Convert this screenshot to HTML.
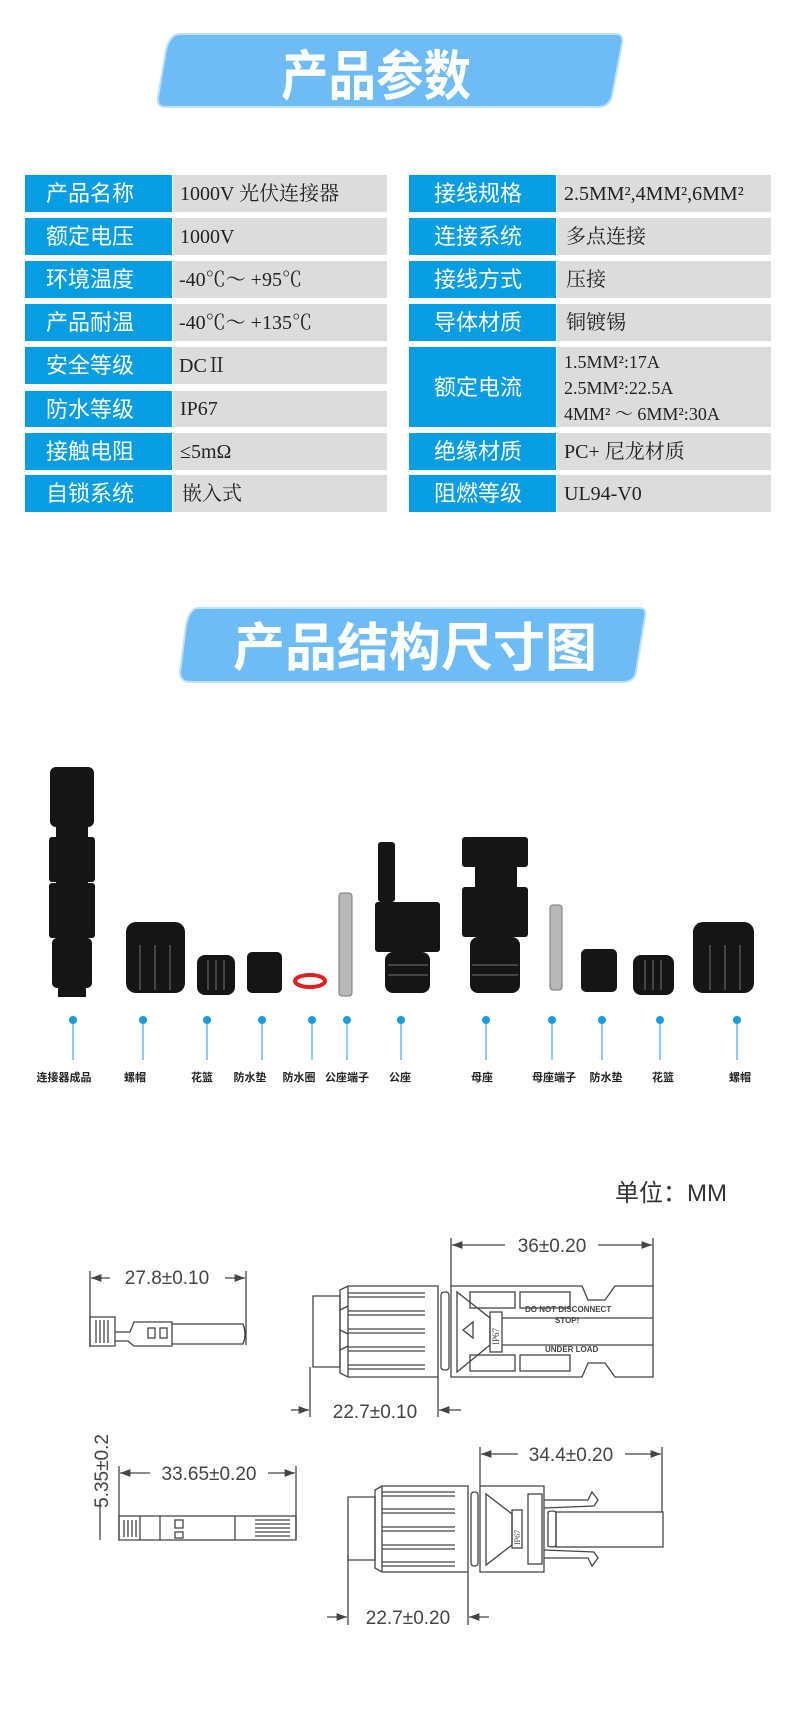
<!DOCTYPE html>
<html><head><meta charset="utf-8"><style>
html,body{margin:0;padding:0;background:#fff;}
svg{display:block;}
.lb{font-family:"Liberation Sans","Noto Sans CJK SC",sans-serif;font-size:22px;fill:#fff;}
.vl{font-family:"Liberation Serif","Noto Serif CJK SC",serif;font-size:20px;fill:#222;}
.ban{font-family:"Liberation Sans","Noto Sans CJK SC",sans-serif;font-weight:bold;fill:#fff;}
.pl{font-family:"Liberation Sans","Noto Sans CJK SC",sans-serif;font-size:11px;font-weight:bold;fill:#222;}
.dim{font-family:"Liberation Sans","DejaVu Sans",sans-serif;font-size:19px;fill:#444;}
.dr{fill:none;stroke:#444;stroke-width:1.3;}
</style></head><body>
<svg width="790" height="1721" viewBox="0 0 790 1721" xmlns="http://www.w3.org/2000/svg">
<defs>
<marker id="ar" markerWidth="8" markerHeight="6" refX="8" refY="3" orient="auto"><path d="M0,0 L8,3 L0,6 z" fill="#444"/></marker>
</defs>
<!-- Banner 1 -->
<path d="M180,34 L616,34 Q624,34 622,44 L612,96 Q609,107 598,107 L166,107 Q156,107 158,97 L166,50 Q170,34 180,34 z" fill="#6dbcf5" stroke="#bfe2fb" stroke-width="2"/>
<text class="ban" x="281" y="95" font-size="54" textLength="190" lengthAdjust="spacingAndGlyphs">产品参数</text>
<!-- Table -->
<g>
<rect x="25" y="175" width="147" height="37" fill="#079de3"/><rect x="173" y="175" width="214" height="37" fill="#dcdcdc"/>
<rect x="25" y="218" width="147" height="37" fill="#079de3"/><rect x="173" y="218" width="214" height="37" fill="#dcdcdc"/>
<rect x="25" y="261" width="147" height="37" fill="#079de3"/><rect x="173" y="261" width="214" height="37" fill="#dcdcdc"/>
<rect x="25" y="304" width="147" height="37" fill="#079de3"/><rect x="173" y="304" width="214" height="37" fill="#dcdcdc"/>
<rect x="25" y="347" width="147" height="37" fill="#079de3"/><rect x="173" y="347" width="214" height="37" fill="#dcdcdc"/>
<rect x="25" y="391" width="147" height="36" fill="#079de3"/><rect x="173" y="391" width="214" height="36" fill="#dcdcdc"/>
<rect x="25" y="433" width="147" height="37" fill="#079de3"/><rect x="173" y="433" width="214" height="37" fill="#dcdcdc"/>
<rect x="25" y="475" width="147" height="37" fill="#079de3"/><rect x="173" y="475" width="214" height="37" fill="#dcdcdc"/>

<rect x="409" y="175" width="147" height="37" fill="#079de3"/><rect x="557" y="175" width="214" height="37" fill="#dcdcdc"/>
<rect x="409" y="218" width="147" height="37" fill="#079de3"/><rect x="557" y="218" width="214" height="37" fill="#dcdcdc"/>
<rect x="409" y="261" width="147" height="37" fill="#079de3"/><rect x="557" y="261" width="214" height="37" fill="#dcdcdc"/>
<rect x="409" y="304" width="147" height="37" fill="#079de3"/><rect x="557" y="304" width="214" height="37" fill="#dcdcdc"/>
<rect x="409" y="347" width="147" height="80" fill="#079de3"/><rect x="557" y="347" width="214" height="80" fill="#dcdcdc"/>
<rect x="409" y="433" width="147" height="37" fill="#079de3"/><rect x="557" y="433" width="214" height="37" fill="#dcdcdc"/>
<rect x="409" y="475" width="147" height="37" fill="#079de3"/><rect x="557" y="475" width="214" height="37" fill="#dcdcdc"/>
</g>
<g class="lb">
<text x="46" y="201">产品名称</text><text x="46" y="244">额定电压</text><text x="46" y="287">环境温度</text><text x="46" y="330">产品耐温</text>
<text x="46" y="373">安全等级</text><text x="46" y="417">防水等级</text><text x="46" y="459">接触电阻</text><text x="46" y="501">自锁系统</text>
<text x="434" y="201">接线规格</text><text x="434" y="244">连接系统</text><text x="434" y="287">接线方式</text><text x="434" y="330">导体材质</text>
<text x="434" y="395">额定电流</text><text x="434" y="459">绝缘材质</text><text x="434" y="501">阻燃等级</text>
</g>
<g class="vl">
<text x="180" y="200">1000V 光伏连接器</text><text x="180" y="243">1000V</text><text x="179" y="286">-40℃～ +95℃</text><text x="179" y="329">-40℃～ +135℃</text>
<text x="179" y="372">DCⅡ</text><text x="180" y="415">IP67</text><text x="180" y="458">≤5mΩ</text><text x="182" y="500">嵌入式</text>
<text x="564" y="200">2.5MM²,4MM²,6MM²</text><text x="566" y="243">多点连接</text><text x="566" y="286">压接</text><text x="566" y="329">铜镀锡</text>
<text x="564" y="368" font-size="18">1.5MM²:17A</text><text x="564" y="394" font-size="18">2.5MM²:22.5A</text><text x="564" y="420" font-size="18">4MM² ～ 6MM²:30A</text>
<text x="564" y="458">PC+ 尼龙材质</text><text x="564" y="500">UL94-V0</text>
</g>
<!-- Banner 2 -->
<path d="M198,608 L640,608 Q647,608 645,617 L636,672 Q634,682 624,682 L190,682 Q180,682 180,672 L186,625 Q190,608 198,608 z" fill="#6dbcf5" stroke="#bfe2fb" stroke-width="2"/>
<text class="ban" x="233" y="666" font-size="52" textLength="364" lengthAdjust="spacingAndGlyphs">产品结构尺寸图</text>
<!-- Photo parts -->
<g fill="#151515">
<rect x="50" y="767" width="44" height="60" rx="6"/>
<rect x="56" y="827" width="32" height="10"/>
<rect x="49" y="837" width="46" height="45" rx="3"/>
<rect x="56" y="882" width="32" height="18"/>
<rect x="49" y="883" width="46" height="55" rx="3"/>
<rect x="52" y="938" width="40" height="50" rx="5"/>
<rect x="58" y="988" width="28" height="9"/>
<rect x="126" y="922" width="59" height="71" rx="10"/>
<rect x="197" y="955" width="38" height="40" rx="8"/>
<rect x="247" y="952" width="35" height="41" rx="5"/>
<rect x="378" y="842" width="17" height="60" rx="3"/>
<rect x="375" y="902" width="65" height="50" rx="3"/>
<rect x="385" y="952" width="45" height="41" rx="8"/>
<rect x="462" y="837" width="66" height="30" rx="3"/>
<rect x="475" y="867" width="42" height="20"/>
<rect x="462" y="887" width="66" height="50" rx="3"/>
<rect x="470" y="937" width="50" height="56" rx="8"/>
<rect x="581" y="949" width="36" height="43" rx="5"/>
<rect x="633" y="955" width="41" height="40" rx="8"/>
<rect x="693" y="922" width="61" height="71" rx="10"/>
</g>
<g stroke="#555" stroke-width="1.5">
<line x1="140" y1="945" x2="140" y2="990"/><line x1="155" y1="945" x2="155" y2="990"/><line x1="170" y1="945" x2="170" y2="990"/>
<line x1="710" y1="945" x2="710" y2="990"/><line x1="725" y1="945" x2="725" y2="990"/><line x1="740" y1="945" x2="740" y2="990"/>
<line x1="208" y1="960" x2="208" y2="990"/><line x1="216" y1="960" x2="216" y2="990"/><line x1="224" y1="960" x2="224" y2="990"/>
<line x1="645" y1="960" x2="645" y2="990"/><line x1="653" y1="960" x2="653" y2="990"/><line x1="661" y1="960" x2="661" y2="990"/>
<line x1="388" y1="965" x2="428" y2="965"/><line x1="388" y1="975" x2="428" y2="975"/>
<line x1="472" y1="965" x2="518" y2="965"/><line x1="472" y1="975" x2="518" y2="975"/>
</g>
<ellipse cx="310" cy="981" rx="15" ry="6" fill="none" stroke="#e02020" stroke-width="4"/>
<rect x="339" y="893" width="13" height="103" rx="3" fill="#b8b8b8" stroke="#777"/>
<rect x="550" y="905" width="12" height="85" rx="3" fill="#b8b8b8" stroke="#777"/>
<!-- callout dots and lines -->
<g fill="#1a9be0" stroke="#1a9be0" stroke-width="1">
<circle cx="73" cy="1020" r="3.5"/><line x1="73" y1="1020" x2="73" y2="1060"/>
<circle cx="143" cy="1020" r="3.5"/><line x1="143" y1="1020" x2="143" y2="1060"/>
<circle cx="207" cy="1020" r="3.5"/><line x1="207" y1="1020" x2="207" y2="1060"/>
<circle cx="262" cy="1020" r="3.5"/><line x1="262" y1="1020" x2="262" y2="1060"/>
<circle cx="312" cy="1020" r="3.5"/><line x1="312" y1="1020" x2="312" y2="1060"/>
<circle cx="347" cy="1020" r="3.5"/><line x1="347" y1="1020" x2="347" y2="1060"/>
<circle cx="401" cy="1020" r="3.5"/><line x1="401" y1="1020" x2="401" y2="1060"/>
<circle cx="486" cy="1020" r="3.5"/><line x1="486" y1="1020" x2="486" y2="1060"/>
<circle cx="552" cy="1020" r="3.5"/><line x1="552" y1="1020" x2="552" y2="1060"/>
<circle cx="602" cy="1020" r="3.5"/><line x1="602" y1="1020" x2="602" y2="1060"/>
<circle cx="660" cy="1020" r="3.5"/><line x1="660" y1="1020" x2="660" y2="1060"/>
<circle cx="737" cy="1020" r="3.5"/><line x1="737" y1="1020" x2="737" y2="1060"/>
</g>
<g class="pl" text-anchor="middle">
<text x="64" y="1081">连接器成品</text><text x="135" y="1081">螺帽</text><text x="202" y="1081">花篮</text><text x="250" y="1081">防水垫</text>
<text x="299" y="1081">防水圈</text><text x="347" y="1081">公座端子</text><text x="400" y="1081">公座</text><text x="482" y="1081">母座</text>
<text x="554" y="1081">母座端子</text><text x="606" y="1081">防水垫</text><text x="663" y="1081">花篮</text><text x="740" y="1081">螺帽</text>
</g>
<!-- Drawing section -->
<text x="615" y="1201" font-family="Liberation Sans,Noto Sans CJK SC,sans-serif" font-size="24" fill="#333">单位：MM</text>
<g class="dr">
<line x1="451" y1="1238" x2="451" y2="1286"/><line x1="653" y1="1238" x2="653" y2="1286"/>
<line x1="505" y1="1245" x2="452" y2="1245" marker-end="url(#ar)"/><line x1="598" y1="1245" x2="652" y2="1245" marker-end="url(#ar)"/>
<line x1="310" y1="1367" x2="310" y2="1417"/><line x1="438" y1="1377" x2="438" y2="1417"/>
<line x1="291" y1="1410" x2="309" y2="1410" marker-end="url(#ar)"/><line x1="461" y1="1410" x2="439" y2="1410" marker-end="url(#ar)"/>
<path d="M313,1296 L340,1296 L340,1367 L313,1367 z"/>
<path d="M340,1290 L348,1286 L438,1286 L438,1377 L348,1377 L340,1373 z"/>
<line x1="348" y1="1286" x2="348" y2="1377"/>
<path d="M340,1310 l8,-4 M340,1330 l8,4 M340,1350 l8,-4"/>
<line x1="348" y1="1293" x2="425" y2="1293"/><line x1="348" y1="1297" x2="425" y2="1297"/>
<line x1="348" y1="1311" x2="425" y2="1311"/><line x1="348" y1="1315" x2="425" y2="1315"/>
<line x1="348" y1="1329" x2="425" y2="1329"/><line x1="348" y1="1333" x2="425" y2="1333"/>
<line x1="348" y1="1347" x2="425" y2="1347"/><line x1="348" y1="1351" x2="425" y2="1351"/>
<line x1="348" y1="1365" x2="425" y2="1365"/><line x1="348" y1="1369" x2="425" y2="1369"/>
<rect x="441" y="1292" width="8" height="78" rx="3"/>
<path d="M451,1286 L582,1286 L588,1300 L605,1300 L615,1286 L653,1286 L653,1377 L615,1377 L605,1363 L588,1363 L582,1377 L451,1377 z"/>
<path d="M457,1292 L457,1372 L490,1345 L490,1318 z"/>
<rect x="490" y="1312" width="12" height="40"/>
<rect x="470" y="1292" width="45" height="16"/><rect x="520" y="1292" width="50" height="16"/>
<rect x="470" y="1355" width="45" height="16"/><rect x="520" y="1355" width="50" height="16"/>
<line x1="502" y1="1318" x2="653" y2="1318"/><line x1="502" y1="1345" x2="653" y2="1345"/>
<path d="M463,1330 l10,-8 l0,16 z"/>
<line x1="90" y1="1271" x2="90" y2="1347"/><line x1="246" y1="1271" x2="246" y2="1345"/>
<line x1="110" y1="1278" x2="91" y2="1278" marker-end="url(#ar)"/><line x1="225" y1="1278" x2="245" y2="1278" marker-end="url(#ar)"/>
<path d="M90,1317 L115,1317 L115,1346 L90,1346 z"/>
<path d="M115,1332 L130,1332 L134,1322 L172,1322 L172,1346 L134,1346 L128,1341 L115,1341"/>
<path d="M172,1324 L243,1324 Q247,1334 243,1344 L172,1344"/>
<line x1="96" y1="1320" x2="96" y2="1343"/><line x1="100" y1="1320" x2="100" y2="1343"/><line x1="104" y1="1320" x2="104" y2="1343"/><line x1="108" y1="1320" x2="108" y2="1343"/>
<rect x="148" y="1328" width="7" height="10"/><rect x="160" y="1328" width="7" height="10"/>
<line x1="100" y1="1500" x2="100" y2="1540"/>
<line x1="119" y1="1466" x2="119" y2="1540"/><line x1="296" y1="1466" x2="296" y2="1540"/>
<line x1="150" y1="1473" x2="120" y2="1473" marker-end="url(#ar)"/><line x1="268" y1="1473" x2="295" y2="1473" marker-end="url(#ar)"/>
<path d="M119,1516 L296,1516 L296,1540 L119,1540 z"/>
<line x1="140" y1="1516" x2="140" y2="1540"/><line x1="160" y1="1516" x2="160" y2="1540"/><line x1="235" y1="1516" x2="235" y2="1540"/>
<line x1="124" y1="1520" x2="124" y2="1537"/><line x1="128" y1="1520" x2="128" y2="1537"/><line x1="132" y1="1520" x2="132" y2="1537"/><line x1="136" y1="1520" x2="136" y2="1537"/>
<rect x="175" y="1520" width="8" height="8"/><rect x="175" y="1532" width="8" height="6"/>
<path d="M255,1520 h35 M255,1524 h35 M255,1528 h35 M255,1532 h35 M255,1536 h35"/>
<line x1="480" y1="1447" x2="480" y2="1486"/><line x1="662" y1="1447" x2="662" y2="1512"/>
<line x1="518" y1="1454" x2="481" y2="1454" marker-end="url(#ar)"/><line x1="625" y1="1454" x2="661" y2="1454" marker-end="url(#ar)"/>
<line x1="348" y1="1555" x2="348" y2="1625"/><line x1="468" y1="1572" x2="468" y2="1625"/>
<line x1="327" y1="1617" x2="347" y2="1617" marker-end="url(#ar)"/><line x1="489" y1="1617" x2="469" y2="1617" marker-end="url(#ar)"/>
<path d="M348,1497 L375,1497 L375,1560 L348,1560 z"/>
<path d="M375,1490 L382,1486 L468,1486 L468,1572 L382,1572 L375,1568 z"/>
<line x1="382" y1="1486" x2="382" y2="1572"/>
<line x1="382" y1="1492" x2="455" y2="1492"/><line x1="382" y1="1496" x2="455" y2="1496"/>
<line x1="382" y1="1509" x2="455" y2="1509"/><line x1="382" y1="1513" x2="455" y2="1513"/>
<line x1="382" y1="1527" x2="455" y2="1527"/><line x1="382" y1="1531" x2="455" y2="1531"/>
<line x1="382" y1="1545" x2="455" y2="1545"/><line x1="382" y1="1549" x2="455" y2="1549"/>
<line x1="382" y1="1562" x2="455" y2="1562"/><line x1="382" y1="1566" x2="455" y2="1566"/>
<rect x="471" y="1492" width="7" height="74" rx="3"/>
<path d="M480,1486 L544,1486 L544,1572 L480,1572 z"/>
<path d="M486,1494 L486,1565 L512,1545 L512,1514 z"/>
<rect x="512" y="1510" width="10" height="38"/>
<rect x="528" y="1494" width="14" height="70"/>
<path d="M544,1500 L588,1500 L592,1492 L598,1500 L594,1506 L544,1508"/>
<path d="M544,1558 L588,1558 L592,1566 L598,1558 L594,1552 L544,1550"/>
<path d="M548,1512 Q552,1510 556,1512 L556,1546 Q552,1548 548,1546 z"/>
<rect x="556" y="1512" width="107" height="35"/>
</g>
<g class="dim" text-anchor="middle">
<text x="552" y="1252">36±0.20</text>
<text x="375" y="1418">22.7±0.10</text>
<text x="167" y="1284">27.8±0.10</text>
<text x="209" y="1480">33.65±0.20</text>
<text x="571" y="1461">34.4±0.20</text>
<text x="408" y="1624">22.7±0.20</text>
<text x="0" y="0" transform="translate(108,1471) rotate(-90)">5.35±0.2</text>
</g>
<g font-family="Liberation Sans,sans-serif" font-weight="bold" fill="#444" font-size="8">
<text x="525" y="1312">DO NOT DISCONNECT</text>
<text x="555" y="1323">STOP!</text>
<text x="545" y="1352">UNDER  LOAD</text>
</g>
<text x="0" y="0" font-family="Liberation Serif,serif" font-size="9" fill="#444" transform="translate(499,1345) rotate(-90)">IP67</text>
<text x="0" y="0" font-family="Liberation Serif,serif" font-size="8" fill="#444" transform="translate(520,1545) rotate(-90)">IP67</text>
</svg>
</body></html>
